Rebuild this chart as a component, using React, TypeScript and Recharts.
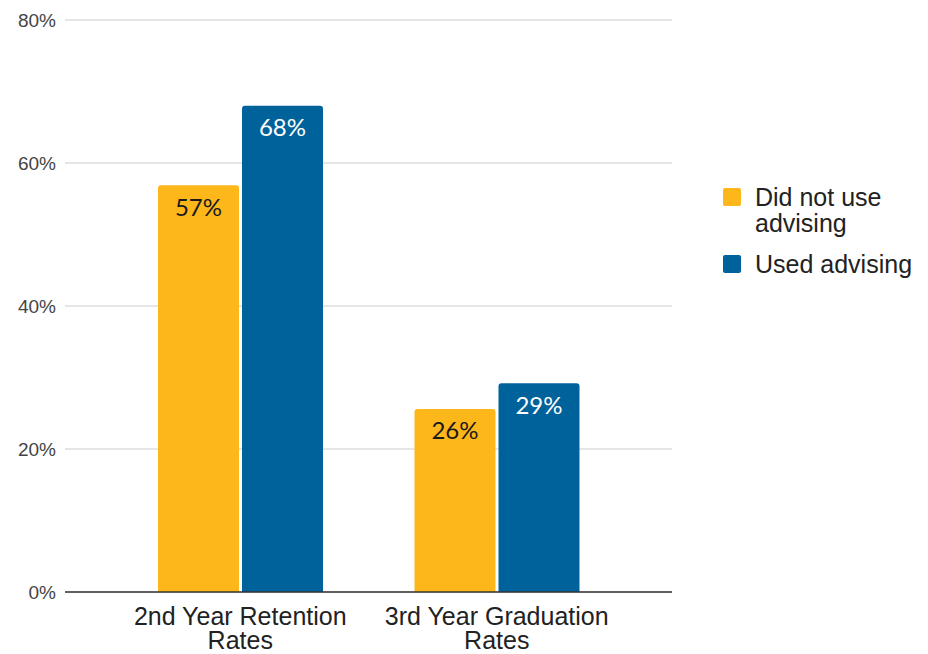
import React from "react";
import { BarChart, Bar, XAxis, YAxis, CartesianGrid, LabelList } from "recharts";

const categories = ["2nd Year Retention Rates", "3rd Year Graduation Rates"];
const didNotUse = [0.569, 0.256];
const usedAdvising = [0.68, 0.292];
const yTicks = [0, 0.2, 0.4, 0.6, 0.8];
const seriesNames = ["Did not use advising", "Used advising"];

const YELLOW = "#FDB71A";
const BLUE = "#00629B";

const data = categories.map((c, i) => ({ name: c, a: didNotUse[i], b: usedAdvising[i] }));

const XTick = (props: any) => {
  const { x, y, payload } = props;
  const words = String(payload.value).split(" ");
  const line2 = words.pop();
  const line1 = words.join(" ");
  return (
    <g>
      <text x={x} y={y + 25} textAnchor="middle" fontFamily="Liberation Sans, Arial" fontSize={25} fill="#222">
        {line1}
      </text>
      <text x={x} y={y + 49} textAnchor="middle" fontFamily="Liberation Sans, Arial" fontSize={25} fill="#222">
        {line2}
      </text>
    </g>
  );
};

const makeLabel = (color: string) => (props: any) => {
  const { x, y, width, value } = props;
  return (
    <text
      x={x + width / 2}
      y={y + 21}
      textAnchor="middle"
      dominantBaseline="central"
      fontFamily="Lato"
      fontSize={24}
      fill={color}
    >
      {Math.round(value * 100) + "%"}
    </text>
  );
};

export default function App() {
  return (
    <div style={{ position: "absolute", left: 0, top: 0, width: 928, height: 654, background: "#fff" }}>
      <BarChart
        width={928}
        height={654}
        data={data}
        margin={{ top: 20, right: 256, left: 0, bottom: 0 }}
        barGap={3}
        barCategoryGap={46}
      >
        <CartesianGrid horizontal vertical={false} stroke="#cccccc" />
        <XAxis
          dataKey="name"
          padding={{ left: 47, right: 47 }}
          tickLine={false}
          axisLine={{ stroke: "#333333", strokeWidth: 1.5 }}
          tick={<XTick />}
          interval={0}
          height={62}
        />
        <YAxis
          width={65}
          domain={[0, 0.8]}
          ticks={yTicks}
          tickFormatter={(v: number) => Math.round(v * 100) + "%"}
          tickLine={false}
          axisLine={false}
          tickMargin={3}
          tick={{ fontFamily: "Liberation Sans, Arial", fontSize: 19, fill: "#444" }}
        />
        <Bar dataKey="a" name={seriesNames[0]} fill={YELLOW} radius={[3, 3, 0, 0]} isAnimationActive={false}>
          <LabelList dataKey="a" content={makeLabel("#1a1a1a")} />
        </Bar>
        <Bar dataKey="b" name={seriesNames[1]} fill={BLUE} radius={[3, 3, 0, 0]} isAnimationActive={false}>
          <LabelList dataKey="b" content={makeLabel("#ffffff")} />
        </Bar>
      </BarChart>
      <div
        style={{
          position: "absolute",
          left: 723,
          top: 184,
          fontFamily: "Liberation Sans, Arial",
          fontSize: 25,
          color: "#222",
          lineHeight: "26px",
        }}
      >
        <div style={{ display: "flex", alignItems: "flex-start" }}>
          <div style={{ width: 18, height: 18, background: YELLOW, borderRadius: 2, marginTop: 4, marginRight: 14 }} />
          <div style={{ width: 170 }}>
            Did not use
            <br />
            advising
          </div>
        </div>
        <div style={{ display: "flex", alignItems: "flex-start", marginTop: 15 }}>
          <div style={{ width: 18, height: 18, background: BLUE, borderRadius: 2, marginTop: 4, marginRight: 14 }} />
          <div style={{ width: 190 }}>{seriesNames[1]}</div>
        </div>
      </div>
    </div>
  );
}
